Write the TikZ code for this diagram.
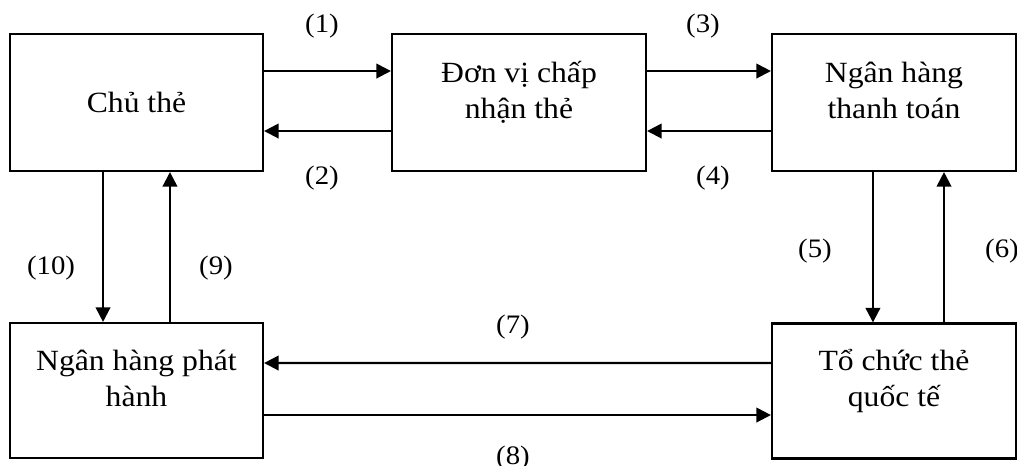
\documentclass[tikz,border=0pt]{standalone}
\usepackage{fontspec}
\setmainfont[FakeStretch=1.08]{Liberation Serif}
\usetikzlibrary{arrows.meta, positioning}

\begin{document}
\begin{tikzpicture}[x=0.75pt, y=-0.75pt,
  box/.style={draw, line width=1.6pt, minimum height=102.75pt, align=center, inner sep=0pt, font=\fontsize{22}{27}\selectfont},
  boxtop/.style={box, text depth=19pt},
  flow/.style={line width=1.6pt, -{Triangle[length=11pt, width=11pt]}},
  tag/.style={font=\fontsize{20}{22}\selectfont}]
  \useasboundingbox (0,0) rectangle (1017,466);

  % Boxes
  \node[box, minimum width=189.75pt] (holder) at (136.5, 102.5) {Chủ thẻ};
  \node[boxtop, minimum width=190.5pt] (merchant) at (519, 102.5) {Đơn vị chấp\\nhận thẻ};
  \node[boxtop, minimum width=183pt] (acquirer) at (894, 102.5) {Ngân hàng\\thanh toán};
  \node[boxtop, minimum width=189.75pt, minimum height=101.25pt] (issuer) at (136.5, 390.5) {Ngân hàng phát\\hành};
  \node[boxtop, minimum width=183pt, minimum height=101.25pt] (scheme) at (894, 391) {Tổ chức thẻ\\quốc tế};

  % Flows
  \draw[flow] ([yshift=23.6pt]holder.east) -- ([yshift=23.6pt]merchant.west);
  \draw[flow] ([yshift=-21.4pt]merchant.west) -- ([yshift=-21.4pt]holder.east);
  \draw[flow] ([yshift=23.6pt]merchant.east) -- ([yshift=23.6pt]acquirer.west);
  \draw[flow] ([yshift=-21.4pt]acquirer.west) -- ([yshift=-21.4pt]merchant.east);
  \draw[flow] ([xshift=-15.8pt]acquirer.south) -- ([xshift=-15.8pt]scheme.north);
  \draw[flow] ([xshift=37.5pt]scheme.north) -- ([xshift=37.5pt]acquirer.south);
  \draw[flow] ([yshift=21pt]scheme.west) -- ([yshift=20.6pt]issuer.west -| issuer.east);
  \draw[flow] ([yshift=-18.4pt]issuer.east) -- ([yshift=-18.4pt]issuer.east -| scheme.west);
  \draw[flow] ([xshift=25.1pt]issuer.north) -- ([xshift=25.1pt]holder.south);
  \draw[flow] ([xshift=-25.1pt]holder.south) -- ([xshift=-25.1pt]issuer.north);

  % Step numbers
  \node[tag] (n1) at (322, 26) {(1)};
  \node[tag] (n2) at (322, 178) {(2)};
  \node[tag] (n3) at (703, 26) {(3)};
  \node[tag] (n4) at (713, 178) {(4)};
  \node[tag] (n5) at (815, 251) {(5)};
  \node[tag] (n6) at (1002, 251) {(6)};
  \node[tag] (n7) at (513, 327) {(7)};
  \node[tag] (n8) at (513, 458) {(8)};
  \node[tag] (n9) at (216, 268) {(9)};
  \node[tag] (n10) at (51, 268) {(10)};
\end{tikzpicture}
\end{document}
